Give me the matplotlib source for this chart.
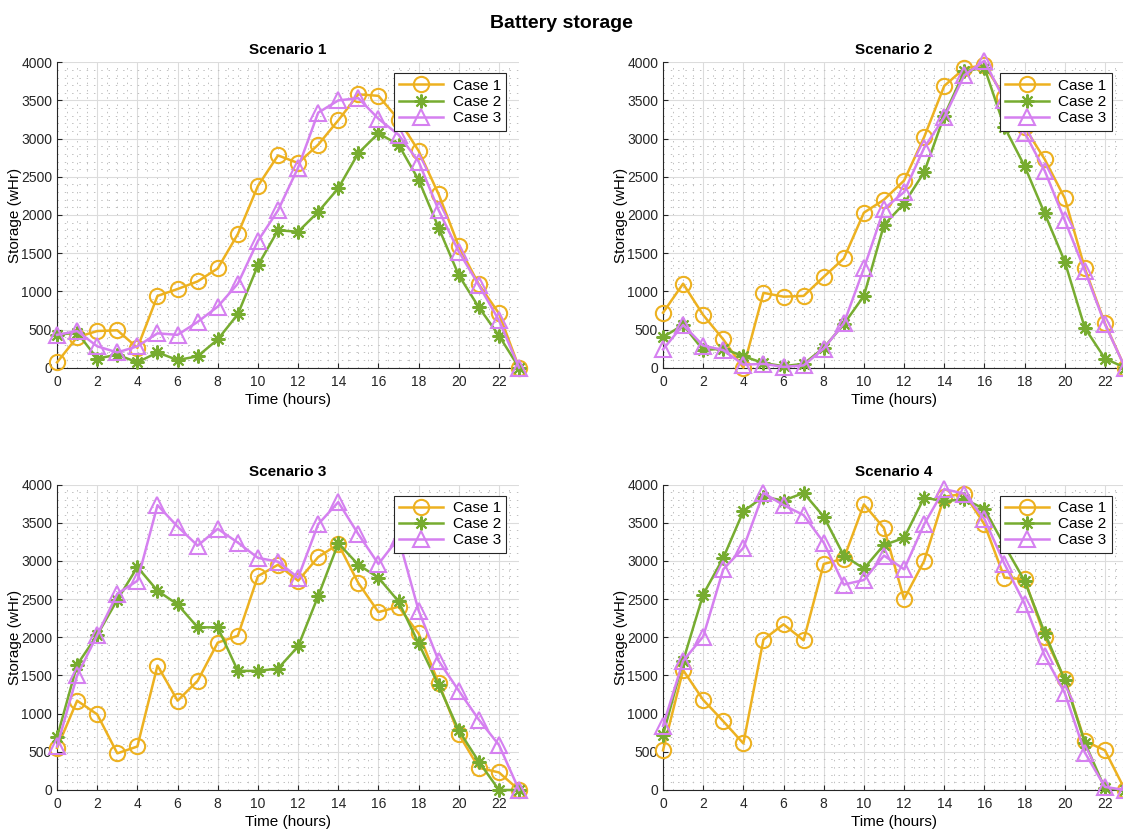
import numpy as np
import matplotlib
matplotlib.use("Agg")
import matplotlib.pyplot as plt
from matplotlib.ticker import MultipleLocator

plt.rcParams['font.family'] = ['Liberation Sans', 'DejaVu Sans']

hours = np.arange(0, 24)

s1_case1 = [70, 400, 480, 490, 260, 940, 1030, 1130, 1300, 1750, 2380, 2780, 2680, 2920, 3240, 3580, 3560, 3250, 2840, 2270, 1590, 1090, 710, 0]
s1_case2 = [430, 460, 120, 170, 70, 200, 100, 150, 370, 700, 1340, 1800, 1780, 2040, 2350, 2810, 3070, 2920, 2460, 1830, 1210, 790, 420, 0]
s1_case3 = [430, 480, 280, 200, 280, 450, 430, 600, 800, 1100, 1660, 2060, 2620, 3340, 3500, 3530, 3260, 3050, 2700, 2060, 1520, 1080, 620, 0]

s2_case1 = [720, 1100, 690, 370, 0, 980, 930, 940, 1190, 1430, 2030, 2200, 2450, 3020, 3690, 3920, 3960, 3550, 3150, 2730, 2220, 1300, 580, 0]
s2_case2 = [400, 560, 230, 250, 150, 60, 20, 50, 260, 570, 940, 1870, 2150, 2560, 3300, 3880, 3930, 3150, 2640, 2020, 1390, 520, 120, 0]
s2_case3 = [240, 560, 290, 230, 40, 50, 10, 30, 250, 580, 1300, 2080, 2300, 2880, 3280, 3830, 4020, 3500, 3080, 2580, 1930, 1270, 570, 0]

s3_case1 = [550, 1170, 990, 480, 570, 1630, 1170, 1430, 1930, 2020, 2800, 2950, 2740, 3050, 3220, 2710, 2330, 2400, 2050, 1400, 730, 290, 230, 0]
s3_case2 = [690, 1640, 2030, 2490, 2920, 2610, 2430, 2130, 2130, 1560, 1560, 1590, 1880, 2540, 3230, 2950, 2780, 2470, 1920, 1370, 780, 370, 0, 0]
s3_case3 = [570, 1500, 2030, 2570, 2740, 3730, 3450, 3200, 3420, 3240, 3040, 2990, 2780, 3480, 3770, 3350, 2960, 3300, 2350, 1690, 1300, 920, 590, 0]

s4_case1 = [520, 1570, 1180, 900, 610, 1970, 2170, 1960, 2960, 3030, 3740, 3430, 2500, 3000, 3840, 3880, 3480, 2780, 2760, 2010, 1450, 640, 520, 0]
s4_case2 = [720, 1690, 2560, 3040, 3650, 3840, 3790, 3890, 3580, 3070, 2900, 3210, 3300, 3830, 3780, 3810, 3680, 3200, 2740, 2060, 1440, 620, 20, 0]
s4_case3 = [840, 1690, 2010, 2890, 3170, 3890, 3730, 3600, 3240, 2690, 2750, 3070, 2890, 3480, 3940, 3880, 3550, 2960, 2440, 1760, 1270, 490, 40, 0]

scenarios = ["Scenario 1", "Scenario 2", "Scenario 3", "Scenario 4"]
case_names = ["Case 1", "Case 2", "Case 3"]
data = [
    [s1_case1, s1_case2, s1_case3],
    [s2_case1, s2_case2, s2_case3],
    [s3_case1, s3_case2, s3_case3],
    [s4_case1, s4_case2, s4_case3],
]

colors = ['#EDB120', '#77AC30', '#D580F0']
markers = ['o', (8, 2, 0), '^']
msizes = [11, 10, 12]

fig = plt.figure(figsize=(11.23, 8.3), dpi=100)
fig.suptitle("Battery storage", fontsize=14, fontweight='bold', y=0.982)

positions = [
    [0.0508, 0.557, 0.4114, 0.368],
    [0.5904, 0.557, 0.4114, 0.368],
    [0.0508, 0.0482, 0.4114, 0.368],
    [0.5904, 0.0482, 0.4114, 0.368],
]

for k in range(4):
    ax = fig.add_axes(positions[k])
    for j in range(3):
        ax.plot(hours, data[k][j], color=colors[j], marker=markers[j], markersize=msizes[j],
                markerfacecolor='none', markeredgecolor=colors[j], markeredgewidth=1.5,
                linewidth=1.8, label=case_names[j], clip_on=False, zorder=3)
    ax.set_xlim(0, 23)
    ax.set_ylim(0, 4000)
    ax.set_xticks(np.arange(0, 23, 2))
    ax.set_yticks(np.arange(0, 4001, 500))
    ax.xaxis.set_minor_locator(MultipleLocator(0.5))
    ax.yaxis.set_minor_locator(MultipleLocator(100))
    ax.grid(True, which='major', color='#dcdcdc', linewidth=0.8)
    ax.grid(True, which='minor', color='#c0c0c0', linestyle=(0, (1.5, 6)), linewidth=0.7)
    ax.set_axisbelow(True)
    ax.spines['top'].set_visible(False)
    ax.spines['right'].set_visible(False)
    ax.spines['left'].set_color('#262626')
    ax.spines['bottom'].set_color('#262626')
    ax.tick_params(which='both', direction='in', labelsize=10, colors='#262626')
    ax.tick_params(axis='x', which='major', pad=5)
    ax.tick_params(which='minor', length=0)
    ax.set_title(scenarios[k], fontsize=11, fontweight='bold', pad=6)
    ax.set_xlabel("Time (hours)", fontsize=11, labelpad=3)
    ax.set_ylabel("Storage (wHr)", fontsize=11, labelpad=-1)
    leg = ax.legend(loc='upper right', fontsize=11, fancybox=False, framealpha=1,
                    edgecolor='#262626', borderpad=0.35, handlelength=2.9, handletextpad=0.6,
                    labelspacing=0.15, borderaxespad=0, bbox_to_anchor=(0.972, 0.964))
    leg.get_frame().set_linewidth(0.8)
    leg.set_zorder(5)

fig.savefig("out.png", dpi=100)
